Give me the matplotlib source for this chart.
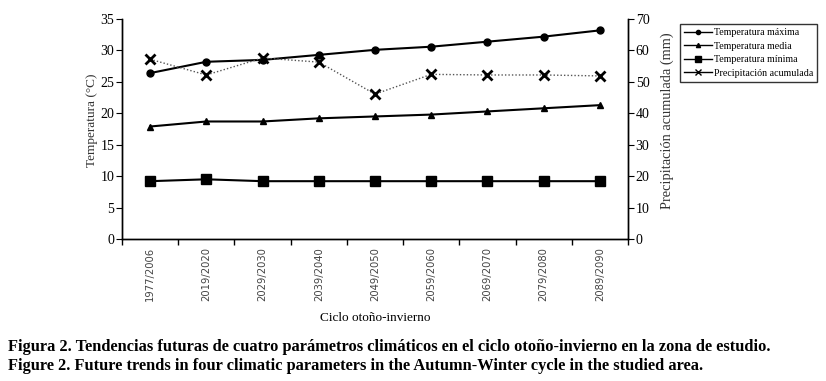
import matplotlib
matplotlib.use("Agg")
import matplotlib.pyplot as plt
from matplotlib.lines import Line2D

categories = ["1977/2006", "2019/2020", "2029/2030", "2039/2040", "2049/2050",
              "2059/2060", "2069/2070", "2079/2080", "2089/2090"]
temp_max = [26.4, 28.2, 28.5, 29.3, 30.1, 30.6, 31.4, 32.2, 33.2]
temp_media = [17.9, 18.7, 18.7, 19.2, 19.5, 19.8, 20.3, 20.8, 21.3]
temp_min = [9.2, 9.5, 9.2, 9.2, 9.2, 9.2, 9.2, 9.2, 9.2]
precip = [57.2, 52.2, 57.6, 56.3, 46.1, 52.4, 52.2, 52.2, 51.9]

serif = "Liberation Serif"

fig = plt.figure(figsize=(8.26, 3.81), dpi=100)
ax = fig.add_axes([0.1477, 0.3727, 0.6126, 0.5773])
ax2 = ax.twinx()

x = list(range(len(categories)))
ax.plot(x, temp_max, color="black", lw=1.5, marker="o", ms=5, zorder=3)
ax.plot(x, temp_media, color="black", lw=1.5, marker="^", ms=5, zorder=3)
ax.plot(x, temp_min, color="black", lw=1.5, marker="s", ms=7, zorder=3)
ax2.plot(x, precip, color="#555555", lw=1.0, ls=(0, (1, 1.5)), marker="x",
         ms=7, mew=2, mec="black", zorder=3)

ax.set_xlim(-0.5, len(categories) - 0.5)
ax.set_ylim(0, 35)
ax2.set_ylim(0, 70)
ax.set_yticks(range(0, 36, 5))
ax2.set_yticks(range(0, 71, 10))

# boundary ticks as major, labels at centers as minor
ax.set_xticks([i - 0.5 for i in range(len(categories) + 1)])
ax.set_xticklabels([])
ax.set_xticks(x, minor=True)
ax.set_xticklabels(categories, minor=True, rotation=90, fontsize=7.2,
                   family="DejaVu Sans", color="#444444")
ax.tick_params(axis="x", which="minor", length=0, pad=6)
ax.tick_params(axis="x", which="major", length=4, direction="out", width=1)

for a in (ax, ax2):
    a.spines["top"].set_visible(False)
    for s in a.spines.values():
        s.set_linewidth(1)
ax.tick_params(axis="y", length=4, direction="out", pad=1.5, labelsize=10)
ax2.tick_params(axis="y", length=4, direction="out", pad=1.5, labelsize=10)
for lab in ax.get_yticklabels() + ax2.get_yticklabels():
    lab.set_family(serif)

ax.set_ylabel("Temperatura (°C)", family=serif, fontsize=9.5, color="#333333")
ax.yaxis.set_label_coords(-0.047, 0.54)
ax2.set_ylabel("Precipitación acumulada (mm)", family=serif, fontsize=10.4,
               color="#333333")
ax2.yaxis.set_label_coords(1.065, 0.54)
fig.text(0.454, 0.165, "Ciclo otoño-invierno", family=serif, fontsize=9.5,
         ha="center", va="center")

handles = [
    Line2D([], [], color="black", lw=1, marker="o", ms=3),
    Line2D([], [], color="black", lw=1, marker="^", ms=3),
    Line2D([], [], color="black", lw=1, marker="s", ms=4),
    Line2D([], [], color="black", lw=1, marker="x", ms=4),
]
labels = ["Temperatura máxima", "Temperatura media", "Temperatura mínima",
          "Precipitación acumulada"]
leg = fig.legend(handles, labels, loc="upper left", bbox_to_anchor=(0.823, 0.937),
                 prop={"family": serif, "size": 7.2}, frameon=True, fancybox=False,
                 edgecolor="black", borderpad=0.4, labelspacing=0.45,
                 handlelength=2.8, handletextpad=0.2, borderaxespad=0)
leg.get_frame().set_linewidth(1)

fig.text(0.01, 0.09, "Figura 2. Tendencias futuras de cuatro parámetros climáticos en el ciclo otoño-invierno en la zona de estudio.",
         family=serif, fontsize=11.8, fontweight="bold", ha="left", va="center")
fig.text(0.01, 0.04, "Figure 2. Future trends in four climatic parameters in the Autumn-Winter cycle in the studied area.",
         family=serif, fontsize=11.8, fontweight="bold", ha="left", va="center")

fig.savefig("out.png", dpi=100)
